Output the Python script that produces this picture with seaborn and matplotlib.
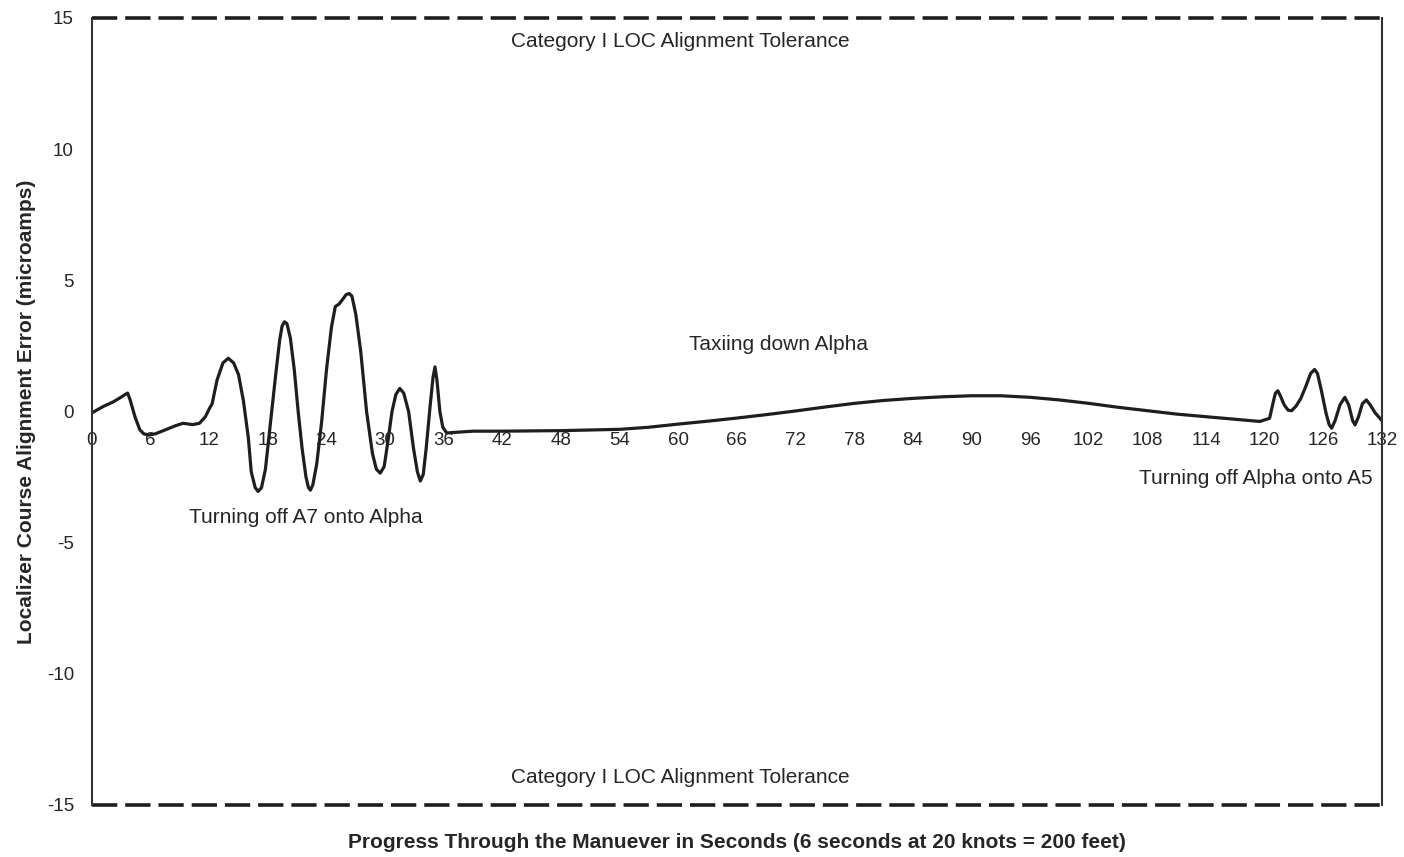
import matplotlib
matplotlib.use('Agg')
import matplotlib.pyplot as plt
import seaborn as sns
import pandas as pd

# Localizer error trace
seconds = [0, 1.2, 2.2, 3.0, 3.4, 3.65, 3.9, 4.4, 4.9, 5.3, 5.8, 6.5, 7.5, 8.5, 9.3, 10.3,
           11.0, 11.6, 12.0, 12.3, 12.8, 13.4, 13.95, 14.5, 15.0, 15.5, 16.0, 16.3, 16.7,
           17.0, 17.35, 17.75, 18.1, 18.4, 18.8, 19.2, 19.45, 19.7, 19.95, 20.3, 20.7, 21.1,
           21.5, 21.9, 22.15, 22.35, 22.6, 23.0, 23.5, 24.0, 24.5, 24.9, 25.3, 25.6, 26.0,
           26.3, 26.6, 27.0, 27.5, 28.1, 28.7, 29.1, 29.5, 29.9, 30.3, 30.7, 31.1, 31.5,
           31.9, 32.4, 32.9, 33.3, 33.6, 33.9, 34.2, 34.6, 34.9, 35.1, 35.3, 35.6, 35.9,
           36.3, 37, 39, 42, 48, 54, 57, 60, 63, 66, 69, 72, 75, 78, 81, 84, 87, 90, 93, 96,
           99, 102, 105, 108, 111, 114, 117, 119.5, 120.5, 120.9, 121.1, 121.35, 121.6, 122.0,
           122.4, 122.75, 123.2, 123.7, 124.2, 124.7, 125.1, 125.4, 125.8, 126.3, 126.6,
           126.85, 127.2, 127.7, 128.2, 128.6, 129.0, 129.25, 129.6, 130.0, 130.4, 130.8,
           131.3, 131.8, 132]
error = [-0.05, 0.2, 0.37, 0.55, 0.65, 0.7, 0.45, -0.2, -0.7, -0.85, -0.9, -0.85, -0.7,
         -0.55, -0.45, -0.5, -0.45, -0.2, 0.1, 0.3, 1.2, 1.85, 2.03, 1.85, 1.4, 0.4, -1.0,
         -2.3, -2.9, -3.05, -2.9, -2.2, -1.0, 0.0, 1.4, 2.7, 3.25, 3.42, 3.35, 2.8, 1.6, 0.0,
         -1.4, -2.5, -2.9, -3.0, -2.8, -2.0, -0.4, 1.6, 3.2, 4.0, 4.1, 4.25, 4.45, 4.5, 4.4,
         3.7, 2.3, 0.0, -1.6, -2.2, -2.35, -2.1, -1.1, 0.0, 0.65, 0.88, 0.7, 0.0, -1.4, -2.3,
         -2.65, -2.4, -1.4, 0.2, 1.3, 1.7, 1.2, 0.0, -0.6, -0.82, -0.8, -0.75, -0.75, -0.73,
         -0.68, -0.6, -0.48, -0.37, -0.25, -0.12, 0.02, 0.17, 0.31, 0.42, 0.5, 0.56, 0.6,
         0.6, 0.54, 0.44, 0.31, 0.16, 0.03, -0.1, -0.2, -0.3, -0.38, -0.26, 0.4, 0.7, 0.79,
         0.6, 0.25, 0.05, 0.03, 0.2, 0.5, 0.95, 1.45, 1.6, 1.45, 0.8, -0.1, -0.5, -0.64,
         -0.35, 0.25, 0.54, 0.25, -0.35, -0.51, -0.2, 0.3, 0.44, 0.25, -0.05, -0.26, -0.35]

tolerance = 15
x_ticks = list(range(0, 133, 6))
y_ticks = [-15, -10, -5, 0, 5, 10, 15]

df = pd.DataFrame({'seconds': seconds, 'error': error})

sns.set_style('white')
plt.rcParams['font.family'] = ['Liberation Sans', 'DejaVu Sans']
plt.rcParams['axes.unicode_minus'] = False

fig, ax = plt.subplots(figsize=(14.04, 8.57), dpi=100)
fig.subplots_adjust(left=0.0655, right=0.9843, top=0.979, bottom=0.0607)

sns.lineplot(data=df, x='seconds', y='error', ax=ax, color='#1e1e1e', linewidth=2.3)

# tolerance limits
ax.axhline(tolerance, color='#1e1e1e', linewidth=2.6, dashes=(7, 2.2), clip_on=False)
ax.axhline(-tolerance, color='#1e1e1e', linewidth=2.6, dashes=(7, 2.2), clip_on=False)

ax.set_xlim(0, 132)
ax.set_ylim(-15, 15)
ax.set_xticks(x_ticks)
ax.set_yticks(y_ticks)
ax.tick_params(axis='both', length=0, labelsize=13.5)
ax.tick_params(axis='x', pad=15)
ax.tick_params(axis='y', pad=13)

# x axis crosses at zero, line itself not shown
ax.spines['bottom'].set_position(('data', 0))
ax.spines['bottom'].set_color('none')
ax.spines['top'].set_visible(False)
for side in ['left', 'right']:
    ax.spines[side].set_color('#333333')
    ax.spines[side].set_linewidth(1.5)

ax.set_xlabel('')
ax.set_ylabel('Localizer Course Alignment Error (microamps)', fontsize=15,
              fontweight='bold', labelpad=8)
fig.text(0.525, 0.0175, 'Progress Through the Manuever in Seconds (6 seconds at 20 knots = 200 feet)',
         ha='center', va='center', fontsize=15, fontweight='bold')

ax.text(60.2, 14.1, 'Category I LOC Alignment Tolerance', ha='center', va='center', fontsize=15)
ax.text(60.2, -13.97, 'Category I LOC Alignment Tolerance', ha='center', va='center', fontsize=15)
ax.text(70.2, 2.57, 'Taxiing down Alpha', ha='center', va='center', fontsize=15)
ax.text(21.9, -4.06, 'Turning off A7 onto Alpha', ha='center', va='center', fontsize=15)
ax.text(119.1, -2.54, 'Turning off Alpha onto A5', ha='center', va='center', fontsize=15)

plt.savefig('out.png', dpi=100)
plt.close()
